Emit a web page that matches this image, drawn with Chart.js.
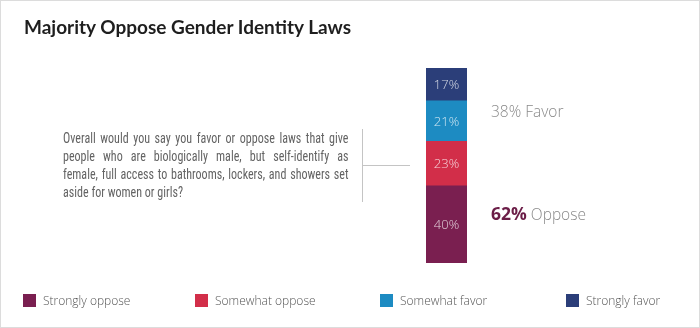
<!DOCTYPE html>
<html>
<head>
<meta charset="utf-8">
<script src="https://cdn.jsdelivr.net/npm/chart.js@4"></script>
<style>
    html, body { margin: 0; padding: 0; background: #fff; }
    #wrap { position: relative; width: 700px; height: 328px; overflow: hidden; font-family: 'Open Sans', 'Lato', sans-serif; }
    #frame { position: absolute; left: 0; top: 0; width: 698px; height: 326px; border: 1px solid #dcdcdc; pointer-events: none; }
    #graph { position: absolute; left: 0; top: 0; }
    #title { position: absolute; left: 24px; top: 15px; font-family: 'Lato', sans-serif; font-weight: 700; font-size: 19px; color: #1e1e1e; }
    #question { position: absolute; left: 63px; top: 130px; width: 344px; transform: scaleX(0.83); transform-origin: 0 0; font-family: 'Liberation Sans Narrow', 'Roboto Condensed', 'Liberation Sans', sans-serif; font-size: 14.5px; line-height: 18px; color: #636363; }
    #question div { text-align: justify; text-align-last: justify; white-space: nowrap; }
    #question div:last-child { text-align-last: left; }
    .line { position: absolute; background: #c4c4c4; }
    .summary { position: absolute; left: 491px; font-weight: 300; font-size: 15.5px; color: #8a8a8a; white-space: nowrap; }
    .summary b { font-weight: 700; font-size: 17.5px; color: #6b1d47; }
    .legendItem { position: absolute; top: 293px; font-weight: 300; font-size: 12px; color: #555; white-space: nowrap; line-height: 16px; }
    .legendItem span { display: inline-block; width: 13px; height: 13px; vertical-align: -2px; margin-right: 7px; }
</style>
</head>
<body>
<div id="wrap">
    <canvas id="graph" width="700" height="328"></canvas>
    <div id="title">Majority Oppose Gender Identity Laws</div>
    <div id="question"></div>
    <div class="line" style="left:362px; top:129px; width:1px; height:73px;"></div>
    <div class="line" style="left:362px; top:165px; width:48px; height:1px;"></div>
    <div id="favorText" class="summary" style="top:100px;"></div>
    <div id="opposeText" class="summary" style="top:201px;"></div>
    <div id="legend"></div>
    <div id="frame"></div>
</div>
<script>
// data, bottom of the bar first
const categories = ['Overall'];
const seriesNames = ['Strongly oppose', 'Somewhat oppose', 'Somewhat favor', 'Strongly favor'];
const stronglyOppose = [40];
const somewhatOppose = [23];
const somewhatFavor = [21];
const stronglyFavor = [17];
const favorTotal = 38;
const opposeTotal = 62;

const questionLines = [
    'Overall would you say you favor or oppose laws that give',
    'people who are biologically male, but self-identify as',
    'female, full access to bathrooms, lockers, and showers set',
    'aside for women or girls?'
];

const colors = ['#7a1f50', '#d22e49', '#1d8bc2', '#2b3e79'];
const legendX = [23, 195, 380, 566];

const values = [stronglyOppose, somewhatOppose, somewhatFavor, stronglyFavor];
const total = values.reduce((s, v) => s + v[0], 0);

let question = document.getElementById('question');
questionLines.forEach(t => {
    let d = document.createElement('div');
    d.textContent = t;
    question.appendChild(d);
});

document.getElementById('favorText').textContent = favorTotal + '% Favor';
document.getElementById('opposeText').innerHTML = '<b>' + opposeTotal + '%</b> Oppose';

let legend = document.getElementById('legend');
seriesNames.forEach((name, i) => {
    let item = document.createElement('div');
    item.className = 'legendItem';
    item.style.left = legendX[i] + 'px';
    item.innerHTML = '<span style="background:' + colors[i] + '"></span>' + name;
    legend.appendChild(item);
});

// writes the percentage in the middle of every segment
const segmentLabels = {
    id: 'segmentLabels',
    afterDatasetsDraw(chart) {
        const ctx = chart.ctx;
        ctx.save();
        ctx.font = '300 13px "Open Sans", sans-serif';
        ctx.fillStyle = 'rgba(255,255,255,0.78)';
        ctx.textAlign = 'center';
        ctx.textBaseline = 'middle';
        chart.data.datasets.forEach((ds, i) => {
            chart.getDatasetMeta(i).data.forEach((bar, j) => {
                const c = bar.getCenterPoint();
                ctx.fillText(ds.data[j] + '%', c.x, c.y + 1);
            });
        });
        ctx.restore();
    }
};

const canvas = document.getElementById('graph');
new Chart(canvas.getContext('2d'), {
    type: 'bar',
    data: {
        labels: categories,
        datasets: seriesNames.map((name, i) => ({
            label: name,
            data: values[i],
            backgroundColor: colors[i],
            borderWidth: 0,
            barPercentage: 1,
            categoryPercentage: 1
        }))
    },
    options: {
        responsive: false,
        animation: false,
        layout: { padding: { left: 426, right: 233, top: 68, bottom: 65 } },
        plugins: { legend: { display: false }, tooltip: { enabled: false } },
        scales: {
            x: { stacked: true, display: false },
            y: { stacked: true, display: false, min: 0, max: total }
        }
    },
    plugins: [segmentLabels]
});
</script>
</body>
</html>
